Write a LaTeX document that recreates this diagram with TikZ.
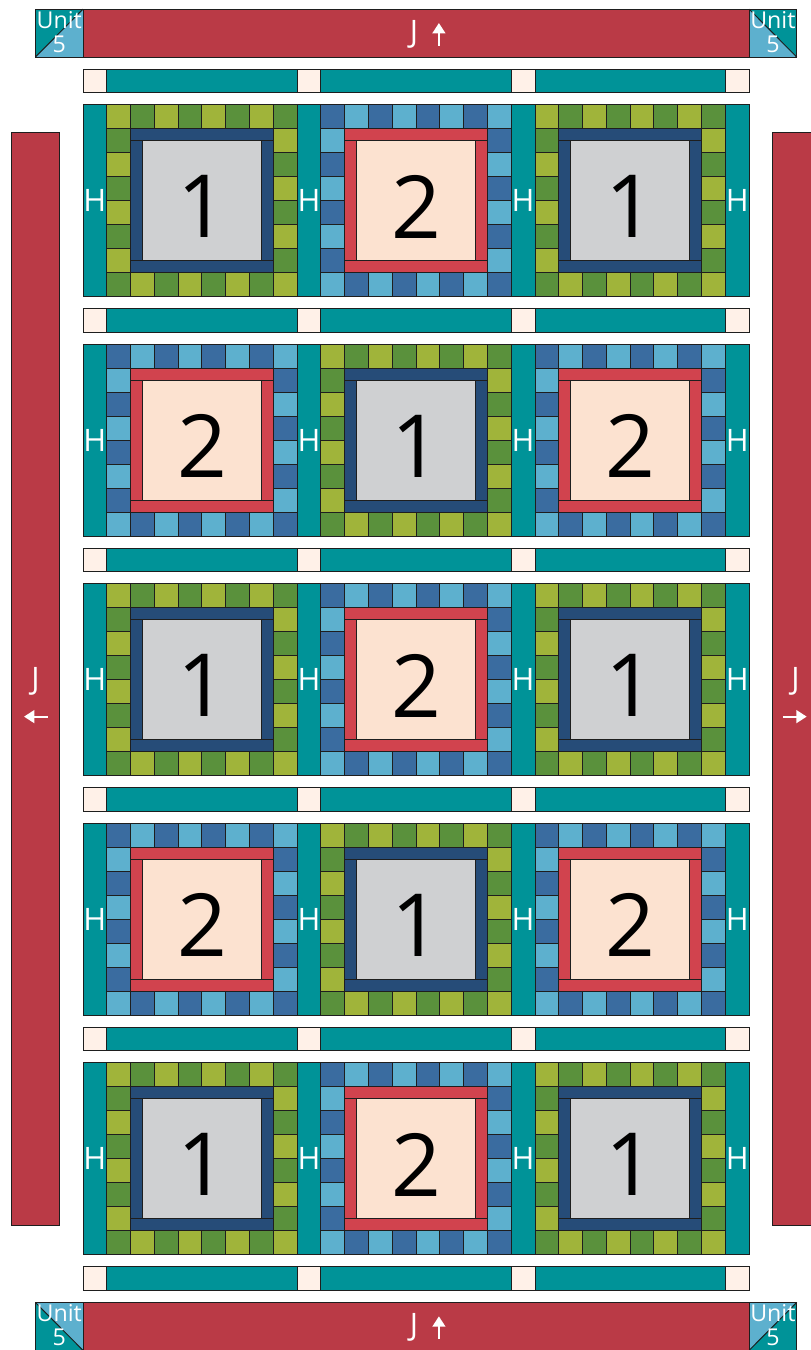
\documentclass[tikz,border=0pt]{standalone}
\usepackage{fontspec}
\setmainfont{Open Sans}
\usepackage{xcolor}
\usepackage{tikz}
\usetikzlibrary{arrows.meta}
\definecolor{quiltteal}{RGB}{0, 147, 152}
\definecolor{quiltred}{RGB}{186, 58, 70}
\definecolor{framered}{RGB}{209, 67, 78}
\definecolor{framenavy}{RGB}{38, 76, 120}
\definecolor{centrepeach}{RGB}{252, 226, 208}
\definecolor{centregrey}{RGB}{207, 208, 210}
\definecolor{quiltcream}{RGB}{255, 241, 232}
\definecolor{greenlime}{RGB}{160, 180, 58}
\definecolor{greenleaf}{RGB}{90, 145, 60}
\definecolor{bluedark}{RGB}{58, 108, 160}
\definecolor{bluelight}{RGB}{93, 176, 206}
\definecolor{patchline}{RGB}{30, 30, 30}
\tikzset{
  patch/.style={draw=patchline, line width=0.7pt},
  hlabel/.style={text=white, inner sep=0pt, font=\fontsize{22}{22}\selectfont},
  jlabel/.style={text=white, inner sep=0pt, font=\fontsize{22}{22}\selectfont},
  unitlabel/.style={text=white, inner sep=0pt, align=center, font=\fontsize{16.5}{17}\selectfont},
  numlabel/.style={text=black, inner sep=0pt, font=\fontsize{62}{62}\selectfont},
  jarrow/.style={white, line width=1.5pt, -{Triangle[length=2.6mm, width=3.2mm]}}
}
% one 8x8 block: x, top y, number, node name (colours sqa, sqb, sqframe, sqcentre)
\newcommand{\quiltblock}[4]{%
  \foreach \i in {0,...,7}{
    \foreach \j in {0,...,7}{
      \ifodd\numexpr\i+\j\relax \def\sqcol{sqb}\else \def\sqcol{sqa}\fi
      \draw[patch, fill=\sqcol] (#1+\i,#2-\j) rectangle ++(1,-1);
    }
  }
  \draw[patch, fill=sqframe] (#1+1,#2-1) rectangle (#1+7,#2-1.5);
  \draw[patch, fill=sqframe] (#1+1,#2-6.5) rectangle (#1+7,#2-7);
  \draw[patch, fill=sqframe] (#1+1,#2-1.5) rectangle (#1+1.5,#2-6.5);
  \draw[patch, fill=sqframe] (#1+6.5,#2-1.5) rectangle (#1+7,#2-6.5);
  \draw[patch, fill=sqcentre] (#1+1.5,#2-1.5) rectangle (#1+6.5,#2-6.5);
  \node[numlabel] (#4) at (#1+4,#2-4.25) {#3};
}

\begin{document}
\begin{tikzpicture}[x=0.5948cm, y=0.5988cm]
  \useasboundingbox (-3.489,2.881) rectangle (30.559,-53.486);

  % J borders, top and bottom
  \draw[patch, fill=quiltred] (0,0.5) rectangle (28,2.5);
  \node[jlabel] (jtop) at (13.91,1.44) {J};
  \coordinate (jtoptail) at (14.96,0.97);
  \coordinate (jtophead) at (14.96,1.92);
  \draw[jarrow] (jtoptail) -- (jtophead);

  \draw[patch, fill=quiltred] (0,-51.5) rectangle (28,-53.5);
  \node[jlabel] (jbottom) at (13.91,-52.56) {J};
  \coordinate (jbottail) at (14.96,-53.03);
  \coordinate (jbothead) at (14.96,-52.08);
  \draw[jarrow] (jbottail) -- (jbothead);

  % J borders, sides
  \draw[patch, fill=quiltred] (-3,-2.66) rectangle (-1,-48.3);
  \node[jlabel] (jleft) at (-2,-25.55) {J};
  \coordinate (jlefttail) at (-1.48,-27.04);
  \coordinate (jlefthead) at (-2.48,-27.04);
  \draw[jarrow] (jlefttail) -- (jlefthead);

  \draw[patch, fill=quiltred] (29,-2.66) rectangle (31,-48.3);
  \node[jlabel] (jright) at (29.95,-25.55) {J};
  \coordinate (jrighttail) at (29.42,-27.04);
  \coordinate (jrighthead) at (30.42,-27.04);
  \draw[jarrow] (jrighttail) -- (jrighthead);

  % Unit 5 corners
  \fill[bluelight] (-2,0.5) rectangle (0,2.5);
  \fill[quiltteal] (-2,0.5) -- (-2,2.5) -- (0,2.5) -- cycle;
  \draw[patch] (-2,0.5) -- (0,2.5);
  \draw[patch] (-2,0.5) rectangle (0,2.5);
  \node[unitlabel] (u5tl) at (-1,1.55) {Unit\\5};

  \fill[bluelight] (28,0.5) rectangle (30,2.5);
  \fill[quiltteal] (28,2.5) -- (30,2.5) -- (30,0.5) -- cycle;
  \draw[patch] (28,2.5) -- (30,0.5);
  \draw[patch] (28,0.5) rectangle (30,2.5);
  \node[unitlabel] (u5tr) at (29,1.55) {Unit\\5};

  \fill[bluelight] (-2,-51.5) rectangle (0,-53.5);
  \fill[quiltteal] (-2,-51.5) -- (-2,-53.5) -- (0,-53.5) -- cycle;
  \draw[patch] (-2,-51.5) -- (0,-53.5);
  \draw[patch] (-2,-51.5) rectangle (0,-53.5);
  \node[unitlabel] (u5bl) at (-1,-52.45) {Unit\\5};

  \fill[bluelight] (28,-51.5) rectangle (30,-53.5);
  \fill[quiltteal] (28,-53.5) -- (30,-53.5) -- (30,-51.5) -- cycle;
  \draw[patch] (28,-53.5) -- (30,-51.5);
  \draw[patch] (28,-51.5) rectangle (30,-53.5);
  \node[unitlabel] (u5br) at (29,-52.45) {Unit\\5};

  % sashing rows with cornerstones
  \foreach \k in {0,...,5}{
    \foreach \c in {0,9,18,27}
      \draw[patch, fill=quiltcream] (\c,-10*\k) rectangle ++(1,-1);
    \foreach \c in {1,10,19}
      \draw[patch, fill=quiltteal] (\c,-10*\k) rectangle ++(8,-1);
  }

  % block rows: H strips and blocks 1 / 2
  \foreach \k in {0,...,4}{
    \pgfmathsetmacro{\yt}{-1.5-10*\k}
    \foreach \c in {0,9,18,27}{
      \draw[patch, fill=quiltteal] (\c,\yt) rectangle ++(1,-8);
      \node[hlabel] (h\k-\c) at (\c+0.5,\yt-4) {H};
    }
    \foreach \c/\x in {0/1,1/10,2/19}{
      \ifodd\numexpr\k+\c\relax
        \colorlet{sqa}{bluedark}\colorlet{sqb}{bluelight}%
        \colorlet{sqframe}{framered}\colorlet{sqcentre}{centrepeach}%
        \def\blocknum{2}%
      \else
        \colorlet{sqa}{greenlime}\colorlet{sqb}{greenleaf}%
        \colorlet{sqframe}{framenavy}\colorlet{sqcentre}{centregrey}%
        \def\blocknum{1}%
      \fi
      \quiltblock{\x}{\yt}{\blocknum}{num\k-\c}
    }
  }
\end{tikzpicture}
\end{document}
